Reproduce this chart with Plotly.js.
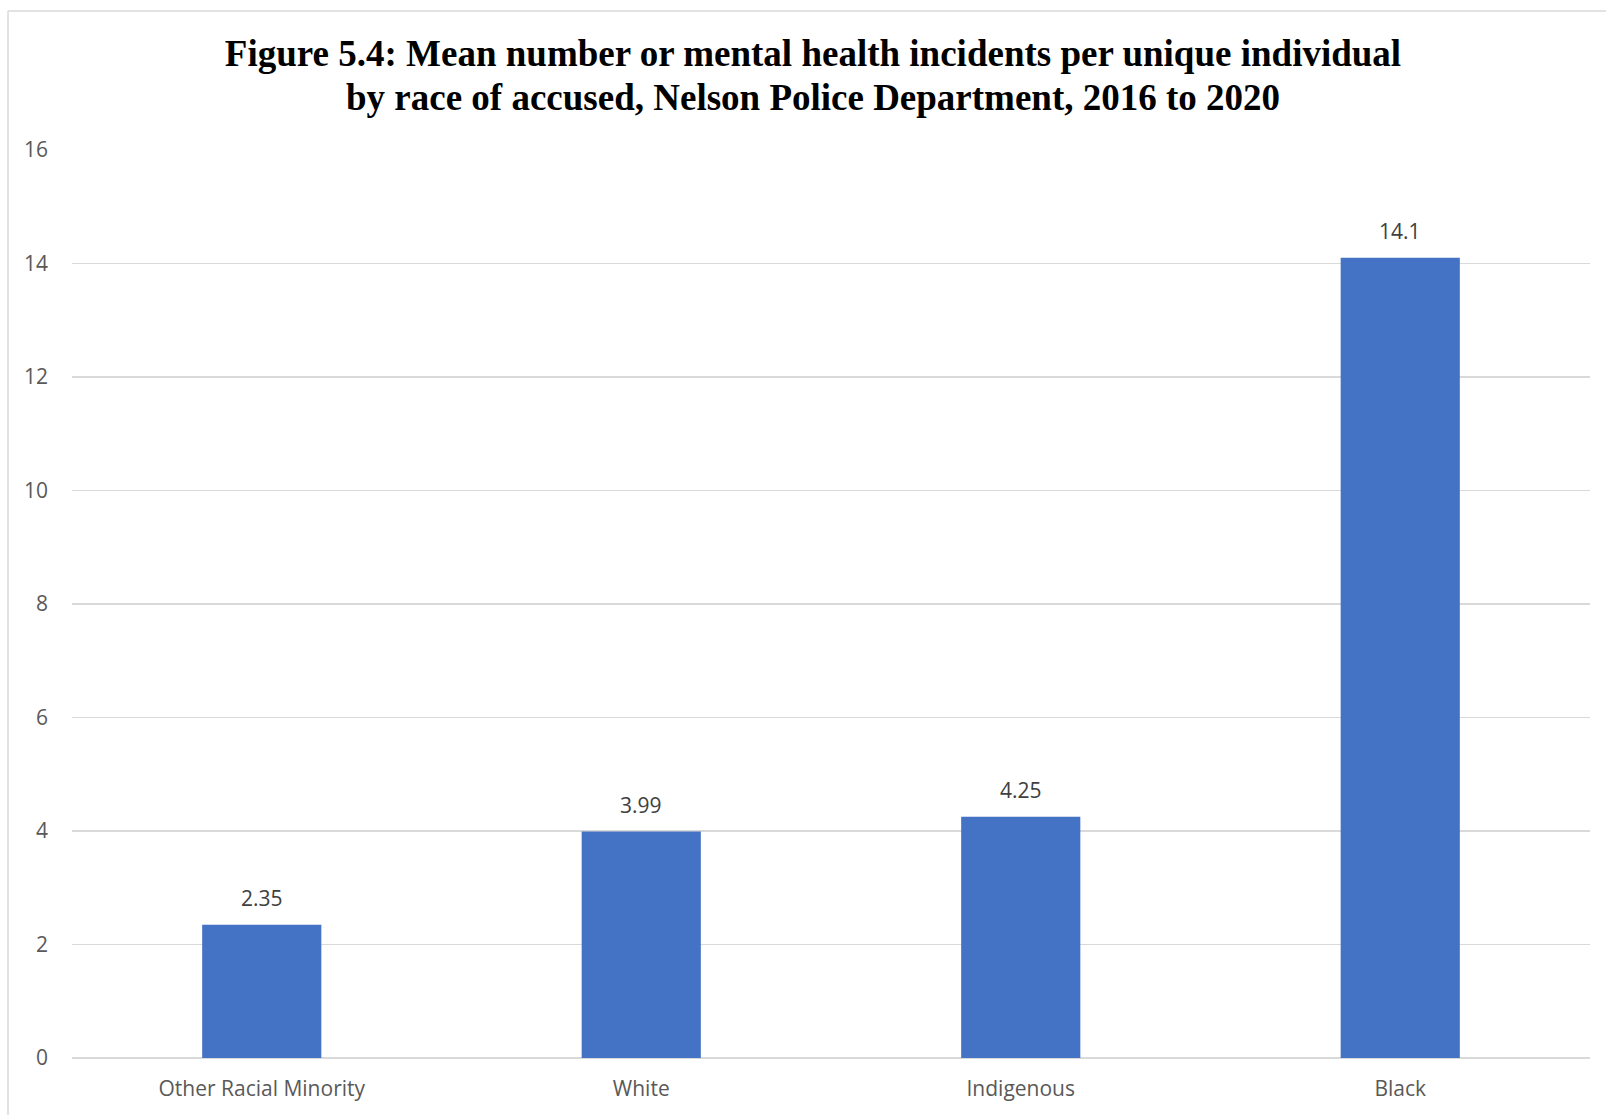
<!DOCTYPE html>
<html>
<head>
<meta charset="utf-8">
<script src="https://cdn.plot.ly/plotly-3.0.1.min.js"></script>
<style>html,body{margin:0;padding:0;background:#fff;}#chart{width:1606px;height:1115px;}</style>
</head>
<body>
<div id="chart"></div>
<script>
const categories = ["Other Racial Minority", "White", "Indigenous", "Black"];
const values = [2.35, 3.99, 4.25, 14.1];
const valueLabels = ["2.35", "3.99", "4.25", "14.1"];
const yTicks = [0, 2, 4, 6, 8, 10, 12, 14, 16];
const titleLine1 = "Figure 5.4: Mean number or mental health incidents per unique individual";
const titleLine2 = "by race of accused, Nelson Police Department, 2016 to 2020";

const W = 1606, H = 1115;
const mL = 72, mR = 16, mT = 150, mB = 57;
const pw = W - mL - mR, ph = H - mT - mB;
const px = x => (x - mL) / pw;
const py = y => (H - mB - y) / ph;

const titleFont = {family: 'Liberation Serif, Times New Roman, serif', size: 37, color: '#000000'};
const labelFont = {family: 'Open Sans, sans-serif', size: 21, color: '#404040'};
const tickFont = {family: 'Open Sans, sans-serif', size: 21, color: '#595959'};

const trace = {
  type: 'bar',
  x: categories,
  y: values,
  marker: {color: '#4472C4'},
  width: 0.314,
  hoverinfo: 'none'
};

const annotations = categories.map((c, i) => ({
  x: c, y: values[i], xref: 'x', yref: 'y',
  text: valueLabels[i], showarrow: false,
  yanchor: 'bottom', yshift: 11,
  font: labelFont
}));

annotations.push({
  xref: 'paper', yref: 'paper', x: px(813), y: py(97),
  xanchor: 'center', yanchor: 'middle', showarrow: false,
  text: '<b>' + titleLine2 + '</b>', font: titleFont
});

const layout = {
  width: W, height: H,
  margin: {l: mL, r: mR, t: mT, b: mB},
  paper_bgcolor: '#ffffff',
  plot_bgcolor: '#ffffff',
  showlegend: false,
  title: {
    text: '<b>' + titleLine1 + '</b>',
    font: titleFont,
    xref: 'container', x: 813 / W, xanchor: 'center',
    yref: 'container', y: 1 - 53 / H, yanchor: 'middle'
  },
  xaxis: {
    type: 'category',
    showgrid: false, zeroline: false, showline: false,
    ticks: '',
    ticklabelstandoff: 16,
    tickfont: tickFont,
    fixedrange: true
  },
  yaxis: {
    range: [0, 16],
    tickvals: yTicks,
    ticktext: yTicks.map(String),
    showgrid: true, gridcolor: '#d9d9d9', gridwidth: 1.5,
    zeroline: true, zerolinecolor: '#d9d9d9', zerolinewidth: 1.5,
    showline: false, ticks: '',
    ticklabelstandoff: 23,
    tickfont: tickFont,
    fixedrange: true
  },
  annotations: annotations,
  shapes: [
    {type: 'line', xref: 'paper', yref: 'paper', x0: px(8), x1: px(8), y0: py(11), y1: py(1115), line: {color: '#d9d9d9', width: 1.5}},
    {type: 'line', xref: 'paper', yref: 'paper', x0: px(8), x1: px(1606), y0: py(11), y1: py(11), line: {color: '#d9d9d9', width: 1.5}}
  ]
};

Plotly.newPlot('chart', [trace], layout, {displayModeBar: false, staticPlot: true});
</script>
</body>
</html>
